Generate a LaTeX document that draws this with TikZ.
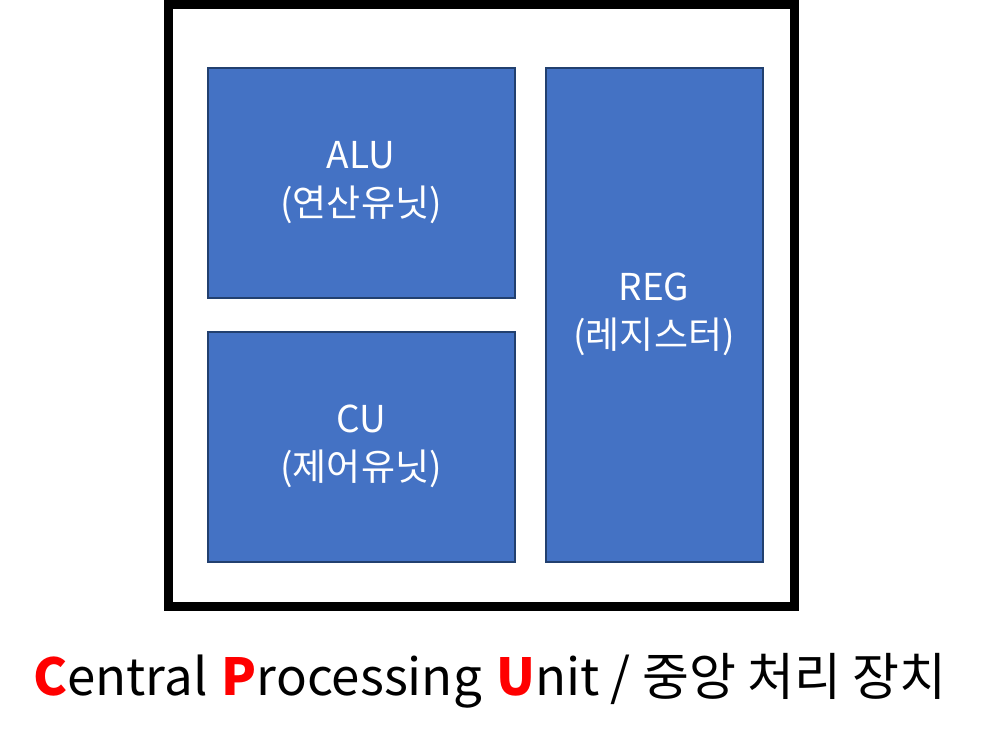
\documentclass[tikz,border=0pt]{standalone}
\usepackage{fontspec}
\setmainfont{Noto Sans CJK KR}
\usetikzlibrary{positioning}
\definecolor{cUnit}{HTML}{4472C4}
\definecolor{cUnitB}{HTML}{22406F}
\definecolor{cKey}{HTML}{FF0000}
\newcommand{\keyletter}[1]{\textcolor{cKey}{\bfseries #1}}

\begin{document}
\begin{tikzpicture}[
  x=1pt, y=-1pt,
  unit/.style={draw=cUnitB, fill=cUnit, line width=2pt, align=center,
               text=white, font=\fontsize{37}{48}\selectfont, inner sep=0pt},
  chip/.style={draw=black, line width=9pt},
  caption/.style={font=\fontsize{51}{60}\selectfont, anchor=base, inner sep=0pt}
]
\useasboundingbox (0,0) rectangle (986,737);

% CPU PACKAGE
\draw[chip] (168.5,4.5) rectangle (794.5,606.5);

% UNITS
\node[unit, minimum width=307pt, minimum height=230pt] (alu) at (361,182.5) {ALU\\(연산유닛)};
\node[unit, minimum width=307pt, minimum height=230pt] (cu) at (361,446.5) {CU\\(제어유닛)};
\node[unit, minimum width=217pt, minimum height=494pt] (reg) at (654,314.5) {REG\\(레지스터)};

% CAPTION
\node[caption] (title) at (490,695) {\keyletter{C}entral\hspace{3pt} \keyletter{P}rocessing\hspace{3pt} \keyletter{U}nit / 중앙 처리 장치};

\end{tikzpicture}
\end{document}
